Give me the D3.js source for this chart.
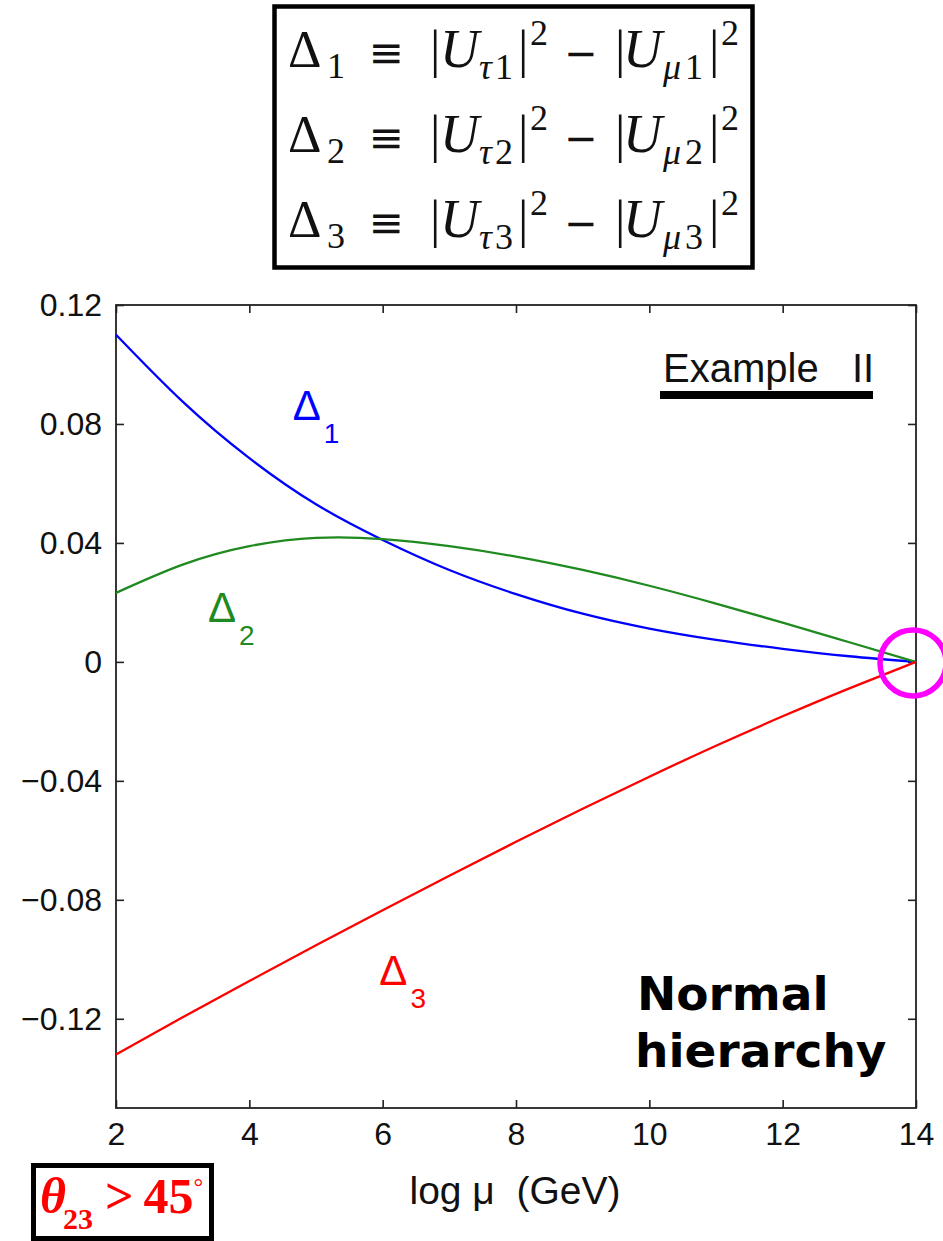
<!DOCTYPE html>
<html>
<head>
<meta charset="utf-8">
<script src="https://cdn.jsdelivr.net/npm/d3@7"></script>
<style>
  html, body { margin: 0; padding: 0; background: #fff; }
  svg { display: block; }
</style>
</head>
<body>
<svg id="chart" width="943" height="1241"></svg>
<script>
// Running of the mixing-matrix asymmetries with the scale log10(mu/GeV)
const logMu = [2, 3, 4, 5, 6, 7, 8, 9, 10, 11, 12, 13, 14];
const delta1 = [0.110, 0.0875, 0.0685, 0.0530, 0.0410, 0.0309, 0.0228, 0.0162, 0.0112, 0.0074, 0.0044, 0.0019, 0.0];
const delta2 = [0.0232, 0.0327, 0.0389, 0.0417, 0.0413, 0.0389, 0.0354, 0.0309, 0.0256, 0.0196, 0.0132, 0.0066, 0.0];
const delta3 = [-0.132, -0.1195, -0.1073, -0.0953, -0.0835, -0.0719, -0.0605, -0.0494, -0.0386, -0.0282, -0.0183, -0.0089, 0.0];

const xTicks = [2, 4, 6, 8, 10, 12, 14];
const yTicks = [-0.12, -0.08, -0.04, 0, 0.04, 0.08, 0.12];
const seriesNames = ["1", "2", "3"];
const seriesColors = ["#0000ff", "#1f8a1f", "#ff0000"];
const labelAnchors = [[4.65, 0.0814], [3.38, 0.0135], [5.95, -0.1085]]; // data coords of the Δ labels

const svg = d3.select("#chart");
const plot = { left: 116, right: 916, top: 305, bottom: 1108 };

const x = d3.scaleLinear().domain([2, 14]).range([plot.left, plot.right]);
const y = d3.scaleLinear().domain([-0.15, 0.12]).range([plot.bottom, plot.top]);

const axisColor = "#222";
const tickLen = 8;
const fmtY = d3.format(".2~f");
const sansFont = "'Liberation Sans', Arial, sans-serif";

// ---- axes (ticks point inward, box on all four sides) ----
const gx = svg.append("g").attr("transform", `translate(0,${plot.bottom})`)
  .call(d3.axisBottom(x).tickValues(xTicks).tickSizeInner(-tickLen).tickSizeOuter(0).tickPadding(14));
const gxTop = svg.append("g").attr("transform", `translate(0,${plot.top})`)
  .call(d3.axisTop(x).tickValues(xTicks).tickSizeInner(-tickLen).tickSizeOuter(0).tickFormat(""));
const gy = svg.append("g").attr("transform", `translate(${plot.left},0)`)
  .call(d3.axisLeft(y).tickValues(yTicks).tickSizeInner(-tickLen).tickSizeOuter(0).tickPadding(14).tickFormat(fmtY));
const gyRight = svg.append("g").attr("transform", `translate(${plot.right},0)`)
  .call(d3.axisRight(y).tickValues(yTicks).tickSizeInner(-tickLen).tickSizeOuter(0).tickFormat(""));

[gx, gxTop, gy, gyRight].forEach(g => {
  g.select(".domain").remove();
  g.selectAll(".tick line").attr("stroke", axisColor).attr("stroke-width", 1.6);
  g.selectAll(".tick text")
    .attr("fill", "#111")
    .style("font-family", sansFont)
    .style("font-size", "32px");
});
gx.selectAll(".tick text").attr("dy", "0.71em");

svg.append("rect")
  .attr("x", plot.left).attr("y", plot.top)
  .attr("width", plot.right - plot.left).attr("height", plot.bottom - plot.top)
  .attr("fill", "none").attr("stroke", axisColor).attr("stroke-width", 1.8);

// ---- curves ----
const series = [delta1, delta2, delta3];
const line = d3.line().x(d => x(d[0])).y(d => y(d[1])).curve(d3.curveNatural);
series.forEach((vals, i) => {
  svg.append("path")
    .datum(logMu.map((m, k) => [m, vals[k]]))
    .attr("d", line)
    .attr("fill", "none")
    .attr("stroke", seriesColors[i])
    .attr("stroke-width", 2.3);
});

// ---- curve labels Δ_i ----
labelAnchors.forEach((a, i) => {
  const t = svg.append("text")
    .attr("x", x(a[0])).attr("y", y(a[1]))
    .attr("fill", seriesColors[i])
    .style("font-family", sansFont)
    .style("font-size", "42px");
  t.append("tspan").text("Δ");
  t.append("tspan").attr("dx", 3).attr("dy", 23).style("font-size", "28px").text(seriesNames[i]);
});

// ---- highlighted convergence point ----
svg.append("circle")
  .attr("cx", x(14) - 3).attr("cy", y(0) + 1).attr("r", 33)
  .attr("fill", "none").attr("stroke", "#ff00ff").attr("stroke-width", 5.5);

// ---- x-axis title ----
svg.append("text")
  .attr("x", 515).attr("y", 1204)
  .attr("text-anchor", "middle")
  .attr("fill", "#111")
  .style("font-family", sansFont)
  .style("font-size", "39px")
  .style("white-space", "pre")
  .text("log μ  (GeV)");

// ---- "Example II" tag ----
svg.append("text")
  .attr("x", 663).attr("y", 382)
  .attr("fill", "#111")
  .style("font-family", sansFont)
  .style("font-size", "40px")
  .style("white-space", "pre")
  .text("Example   II");
svg.append("rect").attr("x", 660).attr("y", 391).attr("width", 213).attr("height", 8).attr("fill", "#000");

// ---- "Normal hierarchy" ----
const nh = svg.append("text")
  .attr("fill", "#000")
  .style("font-family", "'DejaVu Sans', Verdana, sans-serif")
  .style("font-weight", "bold")
  .style("font-size", "47px");
nh.append("tspan").attr("x", 637).attr("y", 1010).text("Normal");
nh.append("tspan").attr("x", 635).attr("y", 1067).text("hierarchy");

// ---- definition box ----
svg.append("rect")
  .attr("x", 274.5).attr("y", 6.5).attr("width", 478).attr("height", 261)
  .attr("fill", "#fff").attr("stroke", "#000").attr("stroke-width", 4.5);

const rowBaselines = [67, 152, 237];
const mathFont = "'Liberation Serif', 'Times New Roman', serif";
const opFont = "'DejaVu Sans', sans-serif";
rowBaselines.forEach((by, i) => {
  const n = seriesNames[i];
  const pieces = [
    { t: "Δ", x: 288, dy: 0, s: 52 },
    { t: n, x: 327, dy: 11, s: 36 },
    { t: "≡", x: 386, dy: 0, s: 42, op: true },
    { t: "|", x: 430, dy: 0, s: 52 },
    { t: "U", x: 440, dy: 0, s: 54, it: true },
    { t: "τ", x: 479, dy: 12, s: 36, it: true },
    { t: n, x: 495, dy: 12, s: 36 },
    { t: "|", x: 518, dy: 0, s: 52 },
    { t: "2", x: 530, dy: -22, s: 36 },
    { t: "−", x: 581, dy: 0, s: 40, op: true },
    { t: "|", x: 615, dy: 0, s: 52 },
    { t: "U", x: 623, dy: 0, s: 54, it: true },
    { t: "μ", x: 663, dy: 12, s: 36, it: true },
    { t: n, x: 685, dy: 12, s: 36 },
    { t: "|", x: 709, dy: 0, s: 52 },
    { t: "2", x: 721, dy: -22, s: 36 }
  ];
  pieces.forEach(p => {
    svg.append("text")
      .attr("x", p.x).attr("y", by + p.dy)
      .attr("text-anchor", p.op ? "middle" : "start")
      .attr("fill", "#111")
      .style("font-family", p.op ? opFont : mathFont)
      .style("font-size", p.s + "px")
      .style("font-style", p.it ? "italic" : "normal")
      .text(p.t);
  });
});

// ---- mixing-angle condition box ----
svg.append("rect")
  .attr("x", 33.5).attr("y", 1165.5).attr("width", 178).attr("height", 73)
  .attr("fill", "#fff").attr("stroke", "#000").attr("stroke-width", 5);
const th = svg.append("text")
  .attr("x", 40).attr("y", 1213)
  .attr("fill", "#ff0000")
  .style("font-family", mathFont)
  .style("font-weight", "bold")
  .style("font-size", "50px");
th.append("tspan").style("font-style", "italic").text("θ");
th.append("tspan").attr("dy", 16).attr("dx", -3).style("font-size", "30px").text("23");
th.append("tspan").attr("dy", -16).attr("dx", 12).text(">");
th.append("tspan").attr("dx", 10).text("45");
th.append("tspan").attr("dy", -18).style("font-size", "24px").style("font-weight", "normal").text("°");
</script>
</body>
</html>
